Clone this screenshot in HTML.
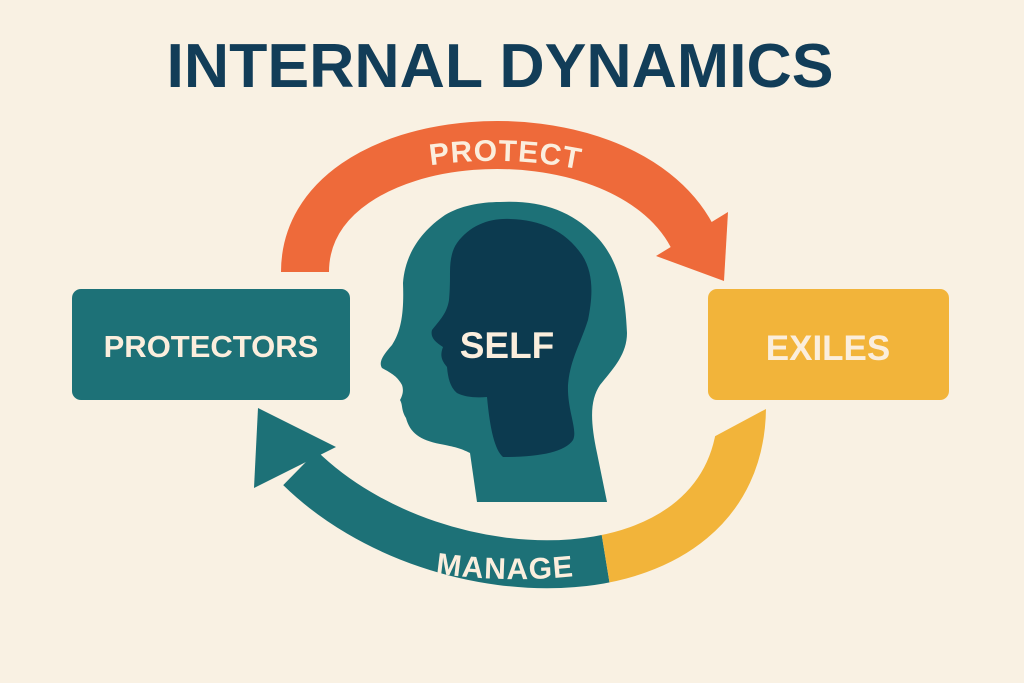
<!DOCTYPE html>
<html><head><meta charset="utf-8"><style>
html,body{margin:0;padding:0;background:#f9f1e3;}
svg{display:block}
text{font-family:"Liberation Sans",sans-serif;font-weight:bold;}
</style></head><body>
<svg width="1024" height="683" viewBox="0 0 1024 683" xmlns="http://www.w3.org/2000/svg">
<rect width="1024" height="683" fill="#f9f1e3"/>
<text x="500" y="87" font-size="62" fill="#123d58" text-anchor="middle" textLength="667" lengthAdjust="spacingAndGlyphs">INTERNAL DYNAMICS</text>

<!-- orange arrow -->
<path d="M305,272 C305,120 620,100 692,236" fill="none" stroke="#ee6a3a" stroke-width="48"/>
<polygon points="656,256 728,212 724,281" fill="#ee6a3a"/>
<path id="pp" d="M395,172 Q505,147 615,178" fill="none"/>
<text font-size="30" fill="#fbeedd" letter-spacing="1"><textPath href="#pp" startOffset="50%" text-anchor="middle">PROTECT</textPath></text>

<!-- lower arrow -->
<defs>
<clipPath id="cy"><polygon points="596,500 614,610 820,610 820,380"/></clipPath>
<clipPath id="ct"><polygon points="596,500 614,610 0,610 0,380"/></clipPath>
</defs>
<path d="M742,408 C740,605 440,605 300,468" fill="none" stroke="#1d7177" stroke-width="48" clip-path="url(#ct)"/>
<path d="M742,408 C740,605 440,605 300,468" fill="none" stroke="#f2b43a" stroke-width="48" clip-path="url(#cy)"/>
<polygon points="258,408 254,488 336,447" fill="#1d7177"/>
<path id="mp" d="M405,568 Q505,588 605,572" fill="none"/>
<text font-size="30" fill="#fbeedd" letter-spacing="1"><textPath href="#mp" startOffset="50%" text-anchor="middle">MANAGE</textPath></text>

<!-- boxes -->
<rect x="72" y="289" width="278" height="111" rx="9" fill="#1d7177"/>
<text x="211" y="357" font-size="31" fill="#fbeedd" text-anchor="middle">PROTECTORS</text>
<rect x="708" y="289" width="241" height="111" rx="9" fill="#f2b43a"/>
<text x="828" y="360" font-size="35" fill="#fbeedd" text-anchor="middle">EXILES</text>

<!-- head -->
<path d="M500,202 C540,200 570,210 595,235 C615,255 625,283 627,333 C627,355 612,370 600,385 C590,400 590,420 597,453 L607,502 L477,502 L470,453 C460,448 455,447 440,444 C420,440 410,433 406,418 C401,410 403,405 400,400 C404,393 403,388 402,385 C398,378 395,375 382,368 C378,362 384,354 392,345 C402,330 404,310 403,283 C405,255 420,232 445,215 C460,206 480,202 500,202 Z" fill="#1d7177"/>
<path d="M457,243 C470,225 490,218 510,219 C540,220 565,230 582,255 C595,275 592,300 588,320 C580,345 570,360 568,385 C567,410 578,430 573,440 C565,452 540,457 503,457 C495,450 490,430 487,397 C475,398 465,397 457,393 C450,387 448,378 447,367 C441,360 440,355 443,347 C435,342 430,337 432,330 C440,320 447,313 449,300 C450,290 450,280 450,272 C450,260 452,250 457,243 Z" fill="#0c3a4f"/>
<text x="507" y="358" font-size="37" fill="#fbeedd" text-anchor="middle">SELF</text>
</svg>
</body></html>
